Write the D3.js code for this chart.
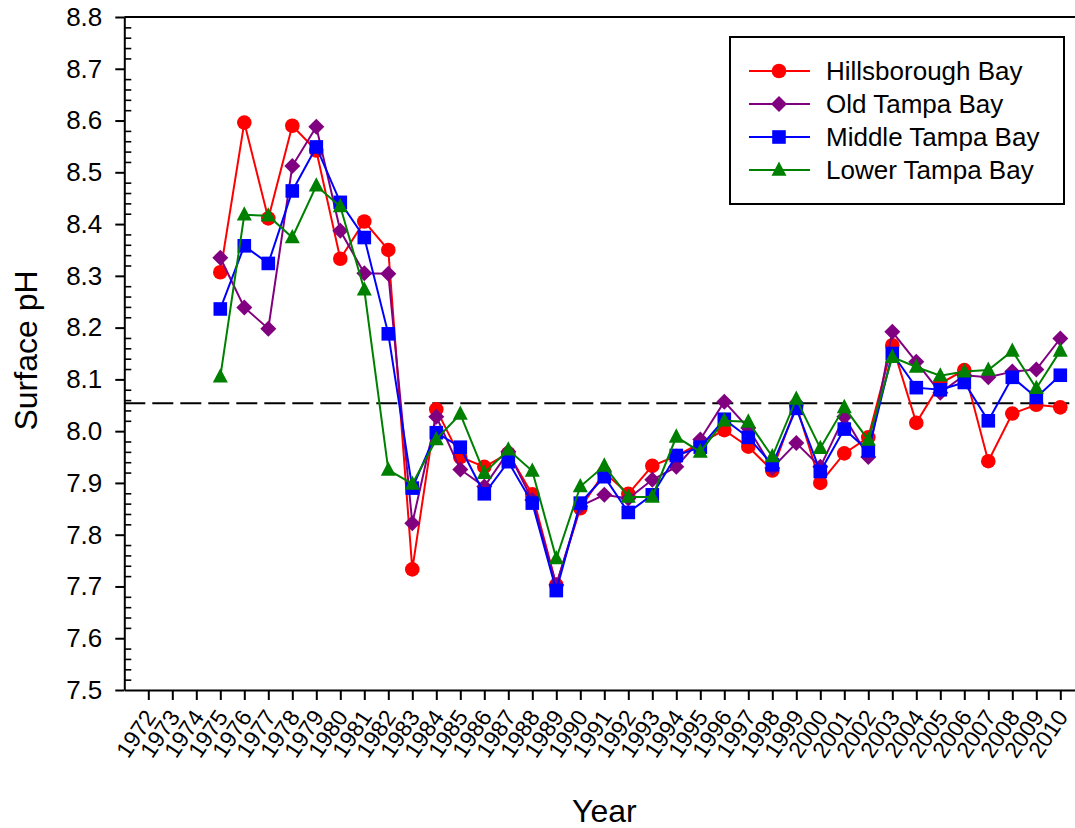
<!DOCTYPE html>
<html>
<head>
<meta charset="utf-8">
<script src="https://cdn.jsdelivr.net/npm/d3@7"></script>
<style>
  html, body { margin: 0; padding: 0; background: #fff; }
  svg { display: block; font-family: "Liberation Sans", Arial, Helvetica, sans-serif; }
</style>
</head>
<body>
<svg id="chart" width="1075" height="828"></svg>
<script>
// ---------------- DATA ----------------
const tickYears = ["1972","1973","1974","1975","1976","1977","1978","1979","1980","1981","1982","1983","1984","1985","1986","1987","1988","1989","1990","1991","1992","1993","1994","1995","1996","1997","1998","1999","2000","2001","2002","2003","2004","2005","2006","2007","2008","2009","2010"];
const yTickLabels = ["7.5","7.6","7.7","7.8","7.9","8.0","8.1","8.2","8.3","8.4","8.5","8.6","8.7","8.8"];
const dataYears = [1975,1976,1977,1978,1979,1980,1981,1982,1983,1984,1985,1986,1987,1988,1989,1990,1991,1992,1993,1994,1995,1996,1997,1998,1999,2000,2001,2002,2003,2004,2005,2006,2007,2008,2009,2010];
const seriesNames = ["Hillsborough Bay","Old Tampa Bay","Middle Tampa Bay","Lower Tampa Bay"];
const hillsborough = [8.307,8.596,8.411,8.590,8.542,8.333,8.405,8.350,7.733,8.042,7.950,7.931,7.957,7.878,7.703,7.851,7.920,7.879,7.933,7.952,7.977,8.002,7.970,7.924,8.050,7.900,7.957,7.988,8.166,8.016,8.092,8.118,7.942,8.034,8.051,8.046];
const oldTampa     = [8.335,8.239,8.198,8.512,8.588,8.387,8.305,8.304,7.822,8.028,7.926,7.893,7.960,7.867,7.703,7.855,7.877,7.870,7.906,7.931,7.984,8.057,8.006,7.929,7.977,7.931,8.028,7.950,8.192,8.134,8.074,8.108,8.104,8.115,8.119,8.179];
const middleTampa  = [8.236,8.358,8.324,8.464,8.549,8.442,8.374,8.188,7.890,7.997,7.969,7.879,7.941,7.861,7.692,7.861,7.912,7.843,7.877,7.953,7.969,8.023,7.988,7.935,8.044,7.922,8.004,7.962,8.150,8.084,8.080,8.094,8.020,8.104,8.065,8.108];
const lowerTampa   = [8.105,8.418,8.416,8.374,8.474,8.434,8.273,7.925,7.898,7.984,8.033,7.919,7.964,7.923,7.754,7.893,7.933,7.873,7.873,7.989,7.960,8.020,8.018,7.951,8.062,7.967,8.046,7.983,8.143,8.124,8.107,8.115,8.118,8.155,8.083,8.155];
const referenceLevel = [8.054];

// ---------------- STYLE ----------------
const colors = ["#ff0000", "#800080", "#0000ff", "#008000"];
const shapes = ["circle", "diamond", "square", "triangle"];
const allSeries = [hillsborough, oldTampa, middleTampa, lowerTampa];

const svg = d3.select("#chart");
const W = 1075, H = 828;
const pLeft = 124.3, pRight = 1084.3, pTop = 17, pBottom = 690;

const x = d3.scaleLinear().domain([1971, 2011]).range([pLeft, pRight]);
const y = d3.scaleLinear().domain([7.5, 8.8]).range([pBottom, pTop]);

function markerPath(shape) {
  switch (shape) {
    case "circle": return "M7.3,0A7.3,7.3 0 1,1 -7.3,0A7.3,7.3 0 1,1 7.3,0Z";
    case "diamond": return "M0,-8L8,0L0,8L-8,0Z";
    case "square": return "M-6.8,-6.8H6.8V6.8H-6.8Z";
    case "triangle": return "M0,-8.5L7.5,5.8L-7.5,5.8Z";
  }
}

// ---------------- AXES ----------------
const yMajor = yTickLabels.map(Number);
const yMinor = d3.range(750, 881, 2).map(v => v / 100).filter(v => Math.abs(Math.round(v * 10) - v * 10) > 1e-6);

const gy = svg.append("g").attr("transform", `translate(${pLeft},0)`)
  .call(d3.axisLeft(y).tickValues(yMajor).tickSize(9).tickSizeOuter(0).tickPadding(13)
    .tickFormat((d, i) => yTickLabels[i]));
gy.select(".domain").attr("stroke-width", 2);
gy.selectAll(".tick line").attr("stroke-width", 2);
gy.selectAll(".tick text").attr("font-size", 26).attr("fill", "#000")
  .attr("font-family", "'Liberation Sans', Arial, sans-serif");

const gyMinor = svg.append("g").attr("transform", `translate(${pLeft},0)`)
  .call(d3.axisRight(y).tickValues(yMinor).tickSize(7).tickSizeOuter(0).tickFormat(""));
gyMinor.select(".domain").remove();
gyMinor.selectAll(".tick line").attr("stroke-width", 1.6);

const gx = svg.append("g").attr("transform", `translate(0,${pBottom})`)
  .call(d3.axisBottom(x).tickValues(tickYears.map(Number)).tickSize(10).tickSizeOuter(0)
    .tickFormat((d, i) => tickYears[i]));
gx.select(".domain").attr("stroke-width", 2);
gx.selectAll(".tick line").attr("stroke-width", 2);
gx.selectAll(".tick text")
  .attr("font-size", 23).attr("fill", "#000")
  .attr("font-family", "'Liberation Sans', Arial, sans-serif")
  .attr("text-anchor", "end")
  .attr("y", 0).attr("dy", 0)
  .attr("transform", "translate(8,27) rotate(-56)");

// top frame line
svg.append("line").attr("x1", pLeft).attr("x2", W).attr("y1", pTop).attr("y2", pTop)
  .attr("stroke", "#000").attr("stroke-width", 2);

// axis titles
svg.append("text").attr("x", (pLeft + pRight) / 2).attr("y", 822)
  .attr("text-anchor", "middle").attr("font-size", 32).text("Year");
svg.append("text").attr("transform", `translate(37,${(pTop + pBottom) / 2 - 3}) rotate(-90)`)
  .attr("text-anchor", "middle").attr("font-size", 32).text("Surface pH");

// reference dashed line
svg.selectAll("line.ref").data(referenceLevel).enter().append("line")
  .attr("class", "ref")
  .attr("x1", pLeft).attr("x2", W)
  .attr("y1", d => y(d)).attr("y2", d => y(d))
  .attr("stroke", "#000").attr("stroke-width", 2).attr("stroke-dasharray", "21,7");

// ---------------- SERIES ----------------
const line = d3.line().x((d, i) => x(dataYears[i])).y(d => y(d));
allSeries.forEach((vals, s) => {
  const g = svg.append("g");
  g.append("path").datum(vals).attr("d", line)
    .attr("fill", "none").attr("stroke", colors[s]).attr("stroke-width", 2);
  g.selectAll("path.m").data(vals).enter().append("path").attr("class", "m")
    .attr("transform", (d, i) => `translate(${x(dataYears[i])},${y(d)})`)
    .attr("d", markerPath(shapes[s]))
    .attr("fill", colors[s]);
});

// ---------------- LEGEND ----------------
const lg = svg.append("g");
lg.append("rect").attr("x", 730).attr("y", 37).attr("width", 334).attr("height", 167)
  .attr("fill", "#fff").attr("stroke", "#000").attr("stroke-width", 2);
seriesNames.forEach((name, s) => {
  const ry = 71 + s * 33;
  lg.append("line").attr("x1", 749).attr("x2", 810).attr("y1", ry).attr("y2", ry)
    .attr("stroke", colors[s]).attr("stroke-width", 2);
  lg.append("path").attr("transform", `translate(779,${ry})`).attr("d", markerPath(shapes[s]))
    .attr("fill", colors[s]);
  lg.append("text").attr("x", 826).attr("y", ry).attr("dy", "0.35em")
    .attr("font-size", 26).text(name);
});
</script>
</body>
</html>
